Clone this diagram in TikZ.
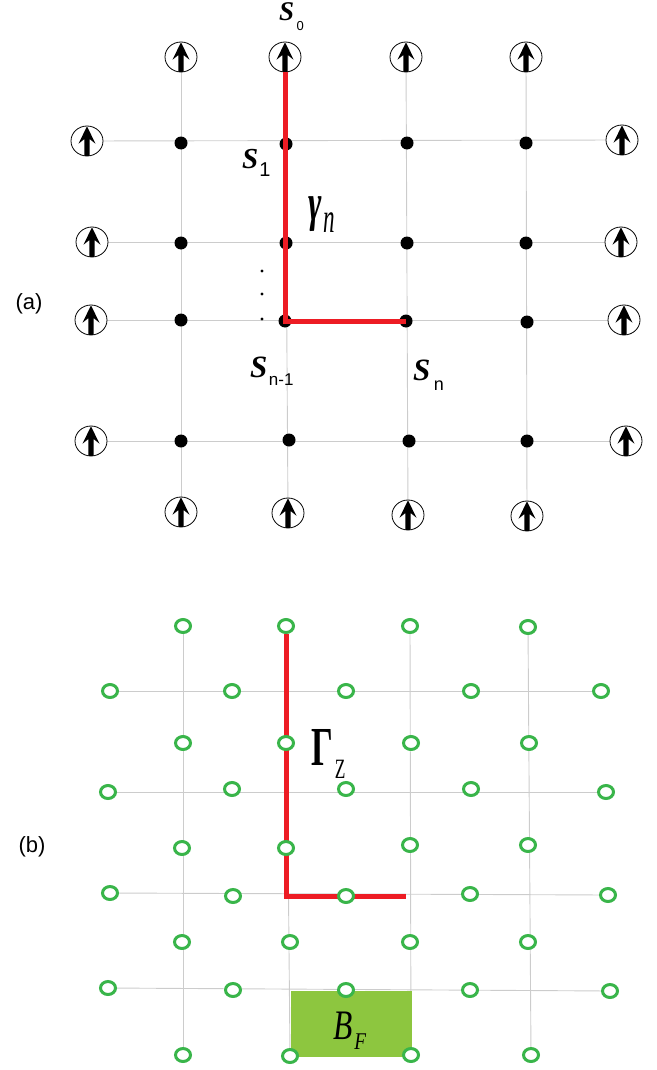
\documentclass[tikz,border=0pt]{standalone}
\usepackage{fontspec}
\setmainfont{Liberation Serif}
\setsansfont{Liberation Sans}
\usepackage{graphicx}
\usetikzlibrary{shapes.geometric,backgrounds}

\definecolor{pathred}{HTML}{ED1C24}
\definecolor{qubitgreen}{HTML}{39B54A}
\definecolor{plaqgreen}{HTML}{8DC63F}
\definecolor{gridgray}{HTML}{CCCCCC}

\tikzset{
  gridline/.style={draw=gridgray, line width=0.9pt},
  spin/.style={ellipse, draw=black, line width=0.8pt, fill=white,
    minimum width=32pt, minimum height=30pt, inner sep=0pt,
    path picture={\fill[black, shift={(path picture bounding box.center)}]
      (0pt,14.7pt) -- (8.5pt,-2.7pt) -- (2.6pt,2pt) -- (2.6pt,-16pt)
      -- (-2.6pt,-16pt) -- (-2.6pt,2pt) -- (-8.5pt,-2.7pt) -- cycle;}},
  site/.style={circle, fill=black, minimum size=13pt, inner sep=0pt},
  qubit/.style={ellipse, draw=qubitgreen, line width=3pt, fill=white,
    minimum width=15pt, minimum height=13pt, inner sep=0pt},
  string/.style={draw=pathred, line width=5pt},
  panel/.style={font=\sffamily\fontsize{22}{22}\selectfont, inner sep=0pt},
  lbl/.style={anchor=base west, inner sep=0pt},
}

\begin{document}
\begin{tikzpicture}[x=1pt, y=-1pt]
\useasboundingbox (0,0) rectangle (656,1070);

% ---------------- panel (a): spin lattice ----------------
\node[panel] (pa) at (29,304) {(a)};

% boundary spins
\node[spin] (t1) at (181,57) {};
\node[spin] (t2) at (285,57) {};
\node[spin] (t3) at (406,57) {};
\node[spin] (t4) at (526,57) {};
\node[spin] (b1) at (181,512) {};
\node[spin] (b2) at (288,513) {};
\node[spin] (b3) at (408,515) {};
\node[spin] (b4) at (527,516) {};
\node[spin] (l1) at (87,141) {};
\node[spin] (l2) at (92,242) {};
\node[spin] (l3) at (91,320) {};
\node[spin] (l4) at (91,441) {};
\node[spin] (r1) at (622,140) {};
\node[spin] (r2) at (621,242) {};
\node[spin] (r3) at (624,320) {};
\node[spin] (r4) at (626,441) {};

% interior sites
\node[site] (d11) at (181,143) {};
\node[site] (d12) at (286,144) {};
\node[site] (d13) at (407,143) {};
\node[site] (d14) at (526,143) {};
\node[site] (d21) at (181,243) {};
\node[site] (d22) at (286,243) {};
\node[site] (d23) at (407,243) {};
\node[site] (d24) at (526,243) {};
\node[site] (d31) at (181,320) {};
\node[site] (d32) at (285,321) {};
\node[site] (d33) at (406,321) {};
\node[site] (d34) at (527,322) {};
\node[site] (d41) at (181,441) {};
\node[site] (d42) at (289,440) {};
\node[site] (d43) at (409,441) {};
\node[site] (d44) at (527,441) {};

\begin{scope}[on background layer]
  \foreach \i in {1,...,4} {
    \draw[gridline] (t\i) -- (b\i);
    \draw[gridline] (l\i) -- (r\i);
  }
\end{scope}

% the string gamma_n
\draw[string] (t2.south) |- (d33.center);

% vertical ellipsis
\foreach \yy/\nm in {271/e1, 294/e2, 319/e3}
  \node[circle, fill=black, minimum size=3.4pt, inner sep=0pt] (\nm) at (262,\yy) {};

% labels
\node[lbl] (s0) at (279,21) {\fontsize{27}{27}\selectfont\bfseries\itshape S\kern2.5pt\raisebox{-10pt}{\upshape\mdseries\sffamily\fontsize{13}{13}\selectfont 0}};
\node[lbl] (s1) at (242,168) {\fontsize{29}{29}\selectfont\bfseries\itshape S\kern1pt\raisebox{-8pt}{\upshape\mdseries\sffamily\fontsize{20}{20}\selectfont 1}};
\node[lbl] (sn1) at (250,377) {\fontsize{31}{31}\selectfont\bfseries\itshape S\kern1.5pt\raisebox{-8pt}{\upshape\mdseries\sffamily\fontsize{17}{17}\selectfont n-1}};
\node[lbl] (sn) at (413,380) {\fontsize{31}{31}\selectfont\bfseries\itshape S\kern3.5pt\raisebox{-10pt}{\upshape\mdseries\sffamily\fontsize{18}{18}\selectfont n}};
\node[lbl] (gam) at (308,220) {\scalebox{0.62}[1]{\fontsize{52}{52}\selectfont\bfseries\itshape γ}\kern1.5pt\raisebox{-12pt}{\scalebox{0.55}[1]{\fontsize{42}{42}\selectfont\itshape n}}};

% ---------------- panel (b): qubits on edges ----------------
\node[panel] (pb) at (32,847) {(b)};

% qubits on vertical edges
\node[qubit] (v11) at (183,626) {};
\node[qubit] (v12) at (286,626) {};
\node[qubit] (v13) at (410,626) {};
\node[qubit] (v14) at (528,627) {};
\node[qubit] (v21) at (183,743) {};
\node[qubit] (v22) at (286,743) {};
\node[qubit] (v23) at (411,743) {};
\node[qubit] (v24) at (529,743) {};
\node[qubit] (v31) at (182,848) {};
\node[qubit] (v32) at (286,848) {};
\node[qubit] (v33) at (410,845) {};
\node[qubit] (v34) at (528,845) {};
\node[qubit] (v41) at (182,942) {};
\node[qubit] (v42) at (290,942) {};
\node[qubit] (v43) at (410,942) {};
\node[qubit] (v44) at (528,942) {};
\node[qubit] (v51) at (183,1055) {};
\node[qubit] (v52) at (290,1056) {};
\node[qubit] (v53) at (411,1055) {};
\node[qubit] (v54) at (531,1055) {};

% qubits on horizontal edges
\node[qubit] (h11) at (110,691) {};
\node[qubit] (h12) at (232,691) {};
\node[qubit] (h13) at (346,691) {};
\node[qubit] (h14) at (471,691) {};
\node[qubit] (h15) at (601,691) {};
\node[qubit] (h21) at (108,792) {};
\node[qubit] (h22) at (232,789) {};
\node[qubit] (h23) at (346,789) {};
\node[qubit] (h24) at (471,789) {};
\node[qubit] (h25) at (606,792) {};
\node[qubit] (h31) at (110,893) {};
\node[qubit] (h32) at (233,896) {};
\node[qubit] (h33) at (346,896) {};
\node[qubit] (h34) at (470,894) {};
\node[qubit] (h35) at (608,895) {};
\node[qubit] (h41) at (108,988) {};
\node[qubit] (h42) at (233,990) {};
\node[qubit] (h43) at (346,990) {};
\node[qubit] (h44) at (470,990) {};
\node[qubit] (h45) at (610,991) {};

\coordinate (zend) at (406,896);

\begin{scope}[on background layer]
  \foreach \j in {1,...,4} \draw[gridline] (v1\j) -- (v5\j);
  \foreach \i in {1,...,4} \draw[gridline] (h\i1) -- (h\i5);
  % the string Gamma_Z
  \draw[string] (v12.south) |- (zend);
  % plaquette
  \fill[plaqgreen] (290.7,990.7) rectangle (412.3,1056.7);
\end{scope}

\node[lbl] (gz) at (311,765) {\scalebox{0.62}[1]{\fontsize{55}{55}\selectfont\bfseries Γ}\kern2pt\raisebox{-13pt}{\scalebox{0.62}[1]{\fontsize{28}{28}\selectfont Z}}};
\node[lbl] (bf) at (333,1039) {\scalebox{0.75}[1]{\fontsize{42}{42}\selectfont\itshape B}\kern2pt\raisebox{-10pt}{\scalebox{0.8}[1]{\fontsize{24}{24}\selectfont\itshape F}}};
\end{tikzpicture}
\end{document}
